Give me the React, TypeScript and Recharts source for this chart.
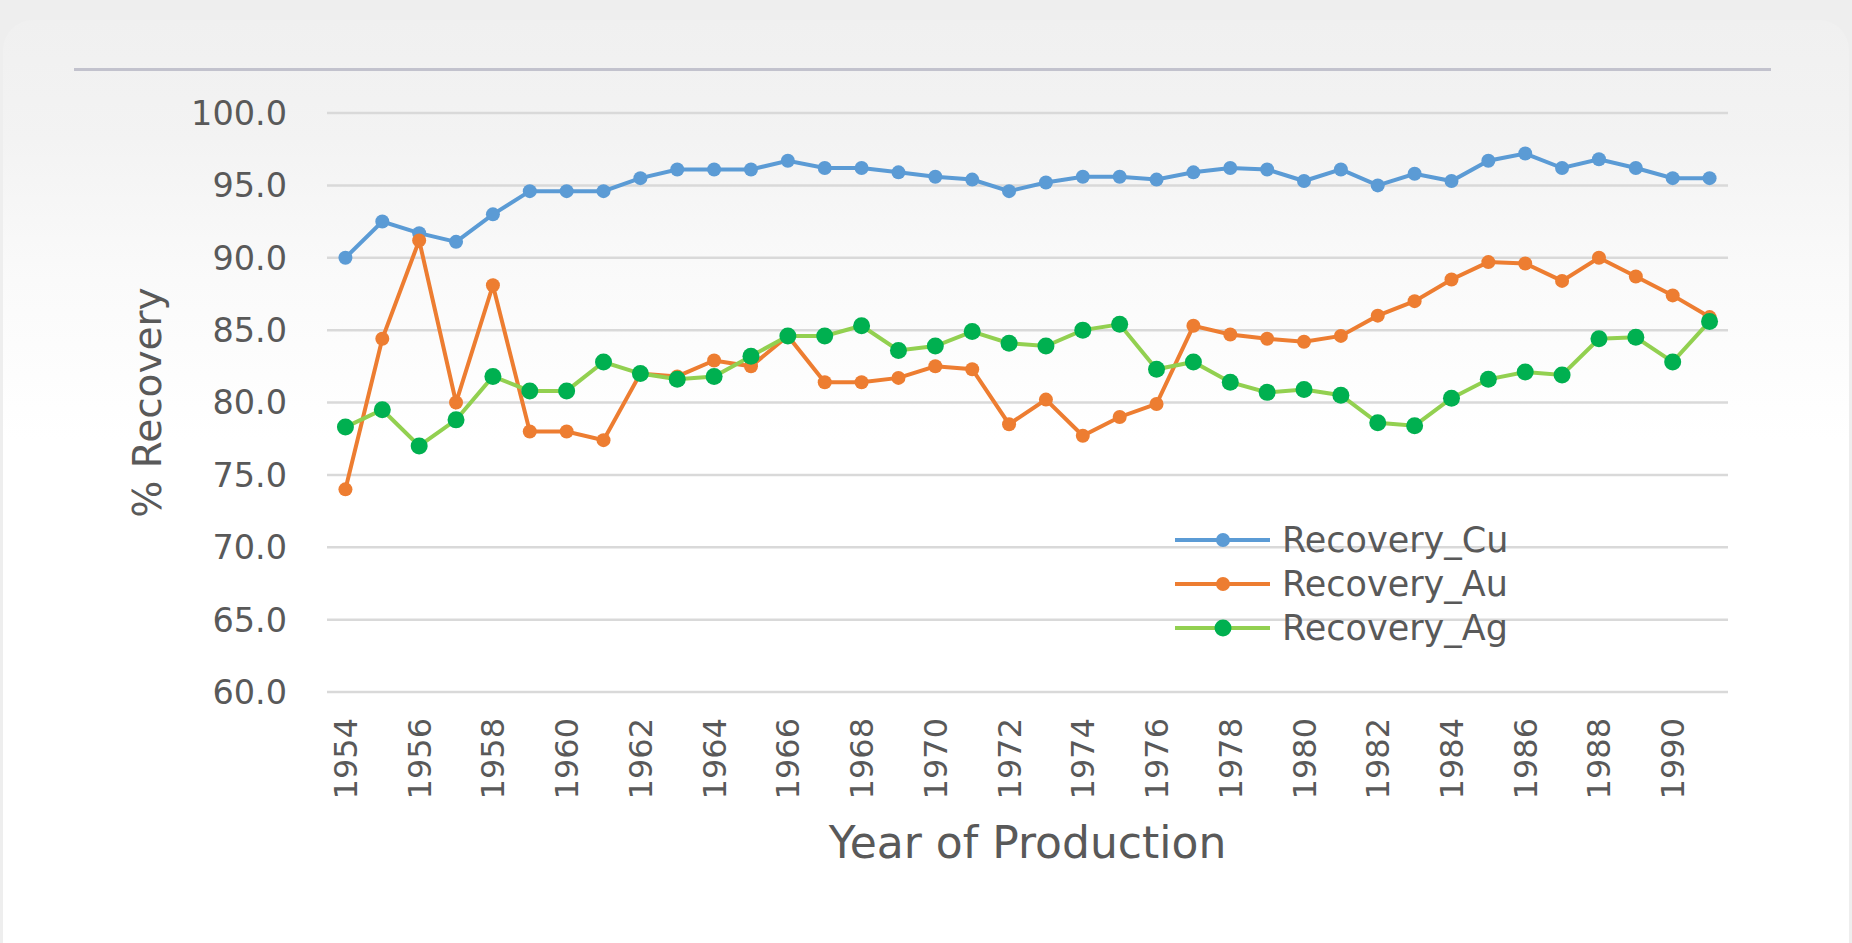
import React from 'react';
import { LineChart, Line, XAxis, YAxis, CartesianGrid, Legend } from 'recharts';

const years = [
  1954, 1955, 1956, 1957, 1958, 1959, 1960, 1961, 1962, 1963, 1964, 1965, 1966,
  1967, 1968, 1969, 1970, 1971, 1972, 1973, 1974, 1975, 1976, 1977, 1978, 1979,
  1980, 1981, 1982, 1983, 1984, 1985, 1986, 1987, 1988, 1989, 1990, 1991,
];

const recoveryCu = [
  90.0, 92.5, 91.7, 91.1, 93.0, 94.6, 94.6, 94.6, 95.5, 96.1, 96.1, 96.1, 96.7,
  96.2, 96.2, 95.9, 95.6, 95.4, 94.6, 95.2, 95.6, 95.6, 95.4, 95.9, 96.2, 96.1,
  95.3, 96.1, 95.0, 95.8, 95.3, 96.7, 97.2, 96.2, 96.8, 96.2, 95.5, 95.5,
];

const recoveryAu = [
  74.0, 84.4, 91.2, 80.0, 88.1, 78.0, 78.0, 77.4, 82.0, 81.8, 82.9, 82.5, 84.6,
  81.4, 81.4, 81.7, 82.5, 82.3, 78.5, 80.2, 77.7, 79.0, 79.9, 85.3, 84.7, 84.4,
  84.2, 84.6, 86.0, 87.0, 88.5, 89.7, 89.6, 88.4, 90.0, 88.7, 87.4, 85.9,
];

const recoveryAg = [
  78.3, 79.5, 77.0, 78.8, 81.8, 80.8, 80.8, 82.8, 82.0, 81.6, 81.8, 83.2, 84.6,
  84.6, 85.3, 83.6, 83.9, 84.9, 84.1, 83.9, 85.0, 85.4, 82.3, 82.8, 81.4, 80.7,
  80.9, 80.5, 78.6, 78.4, 80.3, 81.6, 82.1, 81.9, 84.4, 84.5, 82.8, 85.6,
];

const xTicks = [
  1954, 1956, 1958, 1960, 1962, 1964, 1966, 1968, 1970, 1972, 1974, 1976, 1978,
  1980, 1982, 1984, 1986, 1988, 1990,
];
const yTicks = [60, 65, 70, 75, 80, 85, 90, 95, 100];

const data = years.map((year, i) => ({
  year,
  Recovery_Cu: recoveryCu[i],
  Recovery_Au: recoveryAu[i],
  Recovery_Ag: recoveryAg[i],
}));

// line colour, marker colour, marker radius
const seriesStyle: Record<string, { line: string; dot: string; r: number }> = {
  Recovery_Cu: { line: '#5b9bd5', dot: '#5b9bd5', r: 7 },
  Recovery_Au: { line: '#ed7d31', dot: '#ed7d31', r: 7 },
  Recovery_Ag: { line: '#92d050', dot: '#00b050', r: 8.5 },
};
const seriesOrder = Object.keys(seriesStyle);

const FONT = '"DejaVu Sans", sans-serif';
const TEXT = '#595959';

function XTick(props: any) {
  const { x, y, payload } = props;
  return (
    <text
      x={x}
      y={y}
      transform={`rotate(-90, ${x}, ${y})`}
      textAnchor="end"
      dy="0.36em"
      fill={TEXT}
      fontSize={32}
      fontFamily={FONT}
    >
      {payload.value}
    </text>
  );
}

function YTitle(props: any) {
  const vb = props.viewBox || { x: 100, y: 113, height: 579 };
  const cx = vb.x + 47;
  const cy = vb.y + vb.height / 2;
  return (
    <text
      x={cx}
      y={cy}
      transform={`rotate(-90, ${cx}, ${cy})`}
      textAnchor="middle"
      dy="0.36em"
      fill={TEXT}
      fontSize={39}
      fontFamily={FONT}
    >
      % Recovery
    </text>
  );
}

function XTitle(props: any) {
  const vb = props.viewBox || { x: 327, y: 692, width: 1401, height: 170 };
  return (
    <text
      x={vb.x + vb.width / 2}
      y={vb.y + vb.height - 4}
      textAnchor="middle"
      fill={TEXT}
      fontSize={44}
      fontFamily={FONT}
    >
      Year of Production
    </text>
  );
}

function LegendBox(props: any) {
  const items = [...(props.payload || [])].sort(
    (a: any, b: any) => seriesOrder.indexOf(a.dataKey) - seriesOrder.indexOf(b.dataKey)
  );
  return (
    <div>
      {items.map((item: any) => {
        const st = seriesStyle[item.dataKey as string];
        return (
          <div key={item.value} style={{ height: 44, display: 'flex', alignItems: 'center' }}>
            <svg width={107} height={44}>
              <line x1={0} y1={22} x2={95} y2={22} stroke={st.line} strokeWidth={4} />
              <circle cx={48} cy={22} r={st.r} fill={st.dot} />
            </svg>
            <span style={{ fontFamily: FONT, fontSize: 35, color: TEXT, lineHeight: '44px' }}>
              {item.value}
            </span>
          </div>
        );
      })}
    </div>
  );
}

export default function App() {
  return (
    <div
      style={{
        position: 'fixed',
        left: 0,
        top: 0,
        width: 1852,
        height: 943,
        background: '#eeeeee',
        overflow: 'hidden',
      }}
    >
      <div
        style={{
          position: 'absolute',
          left: 3,
          top: 20,
          width: 1846,
          height: 960,
          borderRadius: 30,
          background:
            'linear-gradient(to bottom, #f0f0f0 0px, #f3f3f3 120px, #fafafa 260px, #ffffff 420px, #ffffff 100%)',
        }}
      />
      <div
        style={{
          position: 'absolute',
          left: 74,
          top: 68,
          width: 1697,
          height: 3,
          background: '#c2c2cd',
        }}
      />
      <div style={{ position: 'absolute', left: 0, top: 0 }}>
        <LineChart
          width={1852}
          height={943}
          data={data}
          margin={{ top: 113, right: 124, bottom: 81, left: 100 }}
        >
          <CartesianGrid vertical={false} stroke="#d9d9d9" strokeWidth={2.5} />
          <XAxis
            dataKey="year"
            type="number"
            domain={[1953.5, 1991.5]}
            ticks={xTicks}
            interval={0}
            height={170}
            axisLine={false}
            tickLine={false}
            tickSize={0}
            tickMargin={26}
            tick={<XTick />}
            label={<XTitle />}
          />
          <YAxis
            type="number"
            domain={[60, 100]}
            ticks={yTicks}
            interval={0}
            width={227}
            axisLine={false}
            tickLine={false}
            tickSize={0}
            tickMargin={40}
            tickFormatter={(v: number) => v.toFixed(1)}
            tick={{ fill: TEXT, fontSize: 33.5, fontFamily: FONT }}
            label={<YTitle />}
          />
          <Legend
            layout="horizontal"
            verticalAlign="middle"
            align="center"
            content={<LegendBox />}
            wrapperStyle={{ left: 1175, top: 518, width: 420, height: 132 }}
          />
          {seriesOrder.map((key) => (
            <Line
              key={key}
              type="linear"
              dataKey={key}
              name={key}
              stroke={seriesStyle[key].line}
              strokeWidth={4}
              dot={{ r: seriesStyle[key].r, fill: seriesStyle[key].dot, stroke: 'none' }}
              activeDot={false}
              isAnimationActive={false}
            />
          ))}
        </LineChart>
      </div>
    </div>
  );
}
